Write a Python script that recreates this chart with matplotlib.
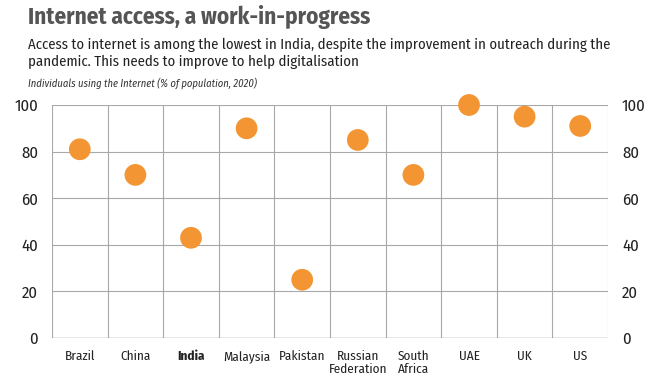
import matplotlib
matplotlib.use("Agg")
import matplotlib.pyplot as plt
import numpy as np

countries = ["Brazil", "China", "India", "Malaysia", "Pakistan", "Russian\nFederation",
             "South\nAfrica", "UAE", "UK", "US"]
values = [81, 70, 43, 90, 25, 85, 70, 100, 95, 91]
yticks = [0, 20, 40, 60, 80, 100]

FONT = ["Fira Sans Condensed", "DejaVu Sans"]
plt.rcParams['font.family'] = FONT

fig = plt.figure(figsize=(6.6, 3.8), dpi=100)
ax = fig.add_axes([52/660, 1-338/380, (608-52)/660, (338-105)/380])

x = np.arange(len(countries))
ax.scatter(x, values, s=245, color="#F39532", zorder=3, clip_on=False, edgecolors="none")
ax.set_xlim(-0.5, len(countries)-0.5)
ax.set_ylim(0, 100)
ax.set_yticks(yticks)
ax.set_xticks(x)
ax.set_xticklabels(countries, fontsize=9.5, color="#222222", linespacing=1.0, va="top")
for lbl in ax.get_xticklabels():
    if lbl.get_text() == "India":
        lbl.set_fontweight("bold")
ax.tick_params(axis="x", length=0, pad=9)
ax.tick_params(axis="y", length=0, labelsize=12, colors="#222222", pad=10,
               labelright=True, right=False)
for b in np.arange(-0.5, len(countries), 1.0):
    ax.axvline(b, color="#a8a8a8", lw=0.8, zorder=1)
for t in yticks[1:]:
    ax.axhline(t, color="#a8a8a8", lw=0.8, zorder=1)
for s in ax.spines.values():
    s.set_visible(False)
ax.axhline(0, color="#888888", lw=1.0, zorder=2)

fig.text(28/660, 1-17/380, "Internet access, a work-in-progress", fontsize=16.6, fontweight="bold",
         color="#555555", va="center")
fig.text(28/660, 1-53.5/380, "Access to internet is among the lowest in India, despite the improvement in outreach during the\npandemic. This needs to improve to help digitalisation",
         fontsize=10.6, color="#222222", va="center", linespacing=1.3)
fig.text(28/660, 1-83/380, "Individuals using the Internet (% of population, 2020)", fontsize=7.6,
         style="italic", color="#333333", va="center")

fig.savefig("out.png", dpi=100, facecolor="white")
